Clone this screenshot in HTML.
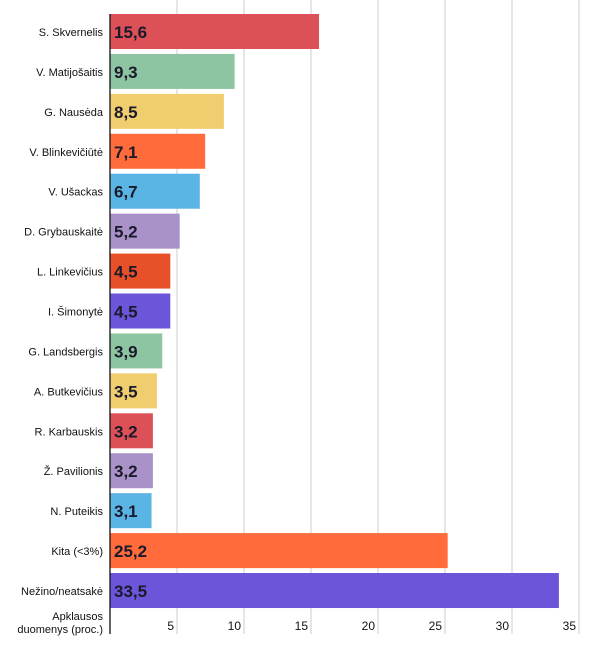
<!DOCTYPE html>
<html><head><meta charset="utf-8"><style>
body{margin:0;background:#fff;width:600px;height:646px;overflow:hidden;font-family:"Liberation Sans",sans-serif}
</style></head><body>
<svg id="c" width="600" height="646"></svg>
<script>
const categories=["S. Skvernelis","V. Matijošaitis","G. Nausėda","V. Blinkevičiūtė","V. Ušackas","D. Grybauskaitė","L. Linkevičius","I. Šimonytė","G. Landsbergis","A. Butkevičius","R. Karbauskis","Ž. Pavilionis","N. Puteikis","Kita (<3%)","Nežino/neatsakė"];
const values=[15.6,9.3,8.5,7.1,6.7,5.2,4.5,4.5,3.9,3.5,3.2,3.2,3.1,25.2,33.5];
const labels=["15,6","9,3","8,5","7,1","6,7","5,2","4,5","4,5","3,9","3,5","3,2","3,2","3,1","25,2","33,5"];
const colors=["#dc5158","#8dc5a3","#f0cd6e","#ff6b3a","#5ab4e4","#a892c8","#e8502a","#6c55d8","#8dc5a3","#f0cd6e","#dc5158","#a892c8","#5ab4e4","#ff6b3a","#6c55d8"];
const ticks=[5,10,15,20,25,30,35];
const NS="http://www.w3.org/2000/svg",svg=document.getElementById('c');
const x=v=>110+v*13.4, y=i=>14+i*39.93;
function mk(t,a,p){const e=document.createElementNS(NS,t);for(const k in a)e.setAttribute(k,a[k]);(p||svg).appendChild(e);return e;}
ticks.forEach(t=>{
 const g=mk('line',{x1:x(t),x2:x(t),y1:0,y2:634,stroke:'#ccc','stroke-width':1});
 
 
 const tl=mk('text',{x:x(t)-3,y:630,'text-anchor':'end','font-size':12,fill:'#111'});
 tl.textContent=t;
 
 
});
categories.forEach((c,i)=>{
 const r=mk('rect',{x:110,y:y(i),width:x(values[i])-110,height:35,fill:colors[i]});
 
 
 const v=mk('text',{x:114,y:y(i)+24,'font-size':17,'font-weight':'bold',fill:'#1a1a2a'});
 v.textContent=labels[i];
 
 
 const l=mk('text',{x:103,y:y(i)+22,'text-anchor':'end','font-size':11,fill:'#111'});
 l.textContent=c;
 
 
});
const ax=mk('line',{x1:110,x2:110,y1:14,y2:634,stroke:'#111','stroke-width':1.3});


const t1=mk('text',{x:103,y:620,'text-anchor':'end','font-size':11,fill:'#111'});t1.textContent="Apklausos";


const t2=mk('text',{x:103,y:633,'text-anchor':'end','font-size':11,fill:'#111'});t2.textContent="duomenys (proc.)";


</script>
</body></html>
